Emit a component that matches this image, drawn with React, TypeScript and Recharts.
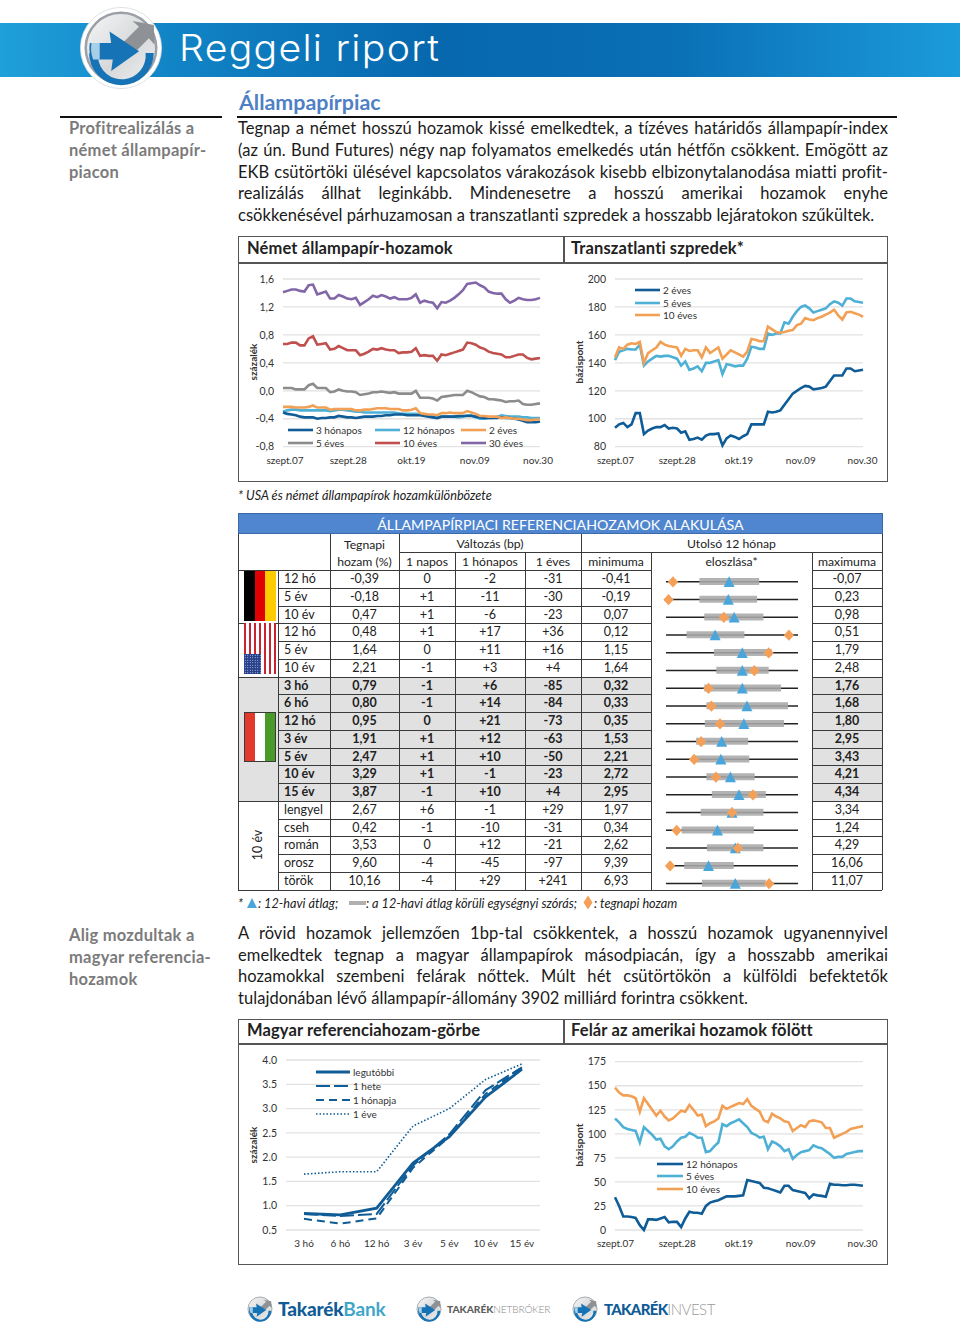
import React from "react";
import {
  LineChart,
  Line,
  Bar,
  ComposedChart,
  XAxis,
  YAxis,
  CartesianGrid,
} from "recharts";

const FONT = "Lato, 'Noto Sans', sans-serif";
const DARK = "#0f5c96";
const LIGHT = "#4fb0d6";
const ORANGE = "#f2a055";
const GRID = "#e2e2e2";

// every 15th trading day carries a label
const dateLabels = ["szept.07", "szept.28", "okt.19", "nov.09", "nov.30"];
const dateTicks = [0, 15, 30, 45, 60];

const de3m = [
  -0.31, -0.33, -0.34, -0.35, -0.37, -0.38, -0.38, -0.38, -0.4, -0.39,
  -0.39, -0.38, -0.38, -0.36, -0.37, -0.38, -0.38, -0.39, -0.38, -0.37,
  -0.37, -0.37, -0.36, -0.36, -0.35, -0.35, -0.34, -0.34, -0.34, -0.35,
  -0.35, -0.35, -0.35, -0.36, -0.37, -0.38, -0.39, -0.37, -0.37, -0.37,
  -0.37, -0.36, -0.36, -0.36, -0.36, -0.37, -0.38, -0.39, -0.39, -0.39,
  -0.39, -0.38, -0.39, -0.39, -0.4, -0.41, -0.43, -0.45, -0.45, -0.45, -0.44,
];
const de12m = [
  -0.3, -0.28, -0.27, -0.27, -0.28, -0.28, -0.28, -0.28, -0.28, -0.28,
  -0.28, -0.29, -0.28, -0.27, -0.27, -0.28, -0.29, -0.3, -0.3, -0.31,
  -0.31, -0.31, -0.31, -0.31, -0.31, -0.31, -0.31, -0.32, -0.33, -0.33,
  -0.33, -0.33, -0.34, -0.35, -0.35, -0.37, -0.38, -0.37, -0.37, -0.37,
  -0.37, -0.38, -0.37, -0.35, -0.35, -0.38, -0.4, -0.4, -0.39, -0.39,
  -0.37, -0.35, -0.36, -0.37, -0.37, -0.37, -0.38, -0.38, -0.39, -0.39, -0.39,
];
const de2y = [
  -0.23, -0.23, -0.23, -0.24, -0.24, -0.24, -0.23, -0.21, -0.24, -0.24,
  -0.24, -0.27, -0.26, -0.26, -0.26, -0.26, -0.26, -0.28, -0.28, -0.27,
  -0.27, -0.26, -0.25, -0.25, -0.25, -0.26, -0.26, -0.26, -0.28, -0.28,
  -0.27, -0.25, -0.32, -0.33, -0.34, -0.34, -0.35, -0.32, -0.32, -0.31,
  -0.32, -0.32, -0.32, -0.29, -0.31, -0.33, -0.36, -0.36, -0.37, -0.37,
  -0.37, -0.39, -0.38, -0.39, -0.4, -0.4, -0.41, -0.42, -0.42, -0.41, -0.41,
];
const de5y = [
  0.04, 0.04, 0.04, 0.02, 0.02, 0.02, 0.08, 0.1, 0.04, 0.04,
  0.04, -0.02, -0.01, 0.02, 0.0, -0.01, -0.01, -0.02, -0.06, -0.05,
  -0.04, -0.02, -0.02, -0.01, -0.02, -0.03, -0.02, -0.04, -0.04, -0.04,
  -0.04, 0.0, -0.1, -0.1, -0.1, -0.11, -0.14, -0.09, -0.08, -0.07,
  -0.06, -0.06, -0.06, 0.0, -0.02, -0.05, -0.08, -0.09, -0.12, -0.12,
  -0.13, -0.14, -0.16, -0.15, -0.15, -0.14, -0.19, -0.2, -0.2, -0.19, -0.18,
];
const de10y = [
  0.67, 0.67, 0.69, 0.69, 0.65, 0.65, 0.75, 0.78, 0.66, 0.67,
  0.68, 0.59, 0.6, 0.64, 0.61, 0.58, 0.58, 0.58, 0.51, 0.53,
  0.56, 0.6, 0.59, 0.61, 0.59, 0.58, 0.58, 0.54, 0.55, 0.55,
  0.56, 0.61, 0.5, 0.51, 0.5, 0.5, 0.43, 0.52, 0.51, 0.53,
  0.55, 0.57, 0.59, 0.69, 0.68, 0.66, 0.62, 0.6, 0.56, 0.54,
  0.53, 0.52, 0.48, 0.48, 0.5, 0.52, 0.52, 0.47, 0.45, 0.46, 0.47,
];
const de30y = [
  1.41, 1.43, 1.45, 1.45, 1.43, 1.42, 1.51, 1.52, 1.38, 1.4,
  1.42, 1.32, 1.32, 1.37, 1.35, 1.32, 1.31, 1.33, 1.23, 1.27,
  1.31, 1.36, 1.34, 1.37, 1.35, 1.32, 1.34, 1.31, 1.31, 1.31,
  1.33, 1.38, 1.26, 1.29, 1.27, 1.26, 1.18, 1.27, 1.26, 1.29,
  1.33, 1.38, 1.44, 1.53, 1.54, 1.55, 1.51, 1.48, 1.42, 1.4,
  1.39, 1.39, 1.31, 1.26, 1.29, 1.33, 1.31, 1.3, 1.3, 1.31, 1.33,
];

const spread2y = [
  93.5, 96, 97, 94, 96, 104, 104, 89, 91.5, 93,
  94, 94, 95.5, 93, 93.5, 93, 90, 91, 85, 85.5,
  86.5, 85, 88, 89, 89, 89.5, 81, 86, 88, 87,
  85.5, 87.5, 89, 96, 96, 96, 96, 105, 104.5, 105,
  106, 110, 114, 118, 120, 122, 123.5, 123, 121, 121.5,
  122, 123, 127, 131, 131, 131, 136, 136, 134, 134.5, 135,
];
const spread5y = [
  142, 148, 149, 150, 149.5, 149.5, 153, 138, 141, 143,
  145, 144.5, 145, 145, 144, 143, 138, 141, 135, 136,
  137.5, 134, 140, 140, 141, 142, 132, 139, 138.5, 137.5,
  138, 138, 143, 151.5, 151, 150, 150, 161, 160, 161,
  161, 169, 168, 173, 177, 180, 181, 179, 176, 177,
  178, 179, 182, 184, 183, 181, 186, 186, 184, 183.5, 183,
];
const spread10y = [
  144, 151, 150, 153, 154, 153.5, 155, 140, 147, 149,
  151, 155, 153, 152, 151.5, 151, 145, 150, 148.5, 149,
  149, 144, 151, 147, 149, 151, 143, 146, 149, 147.5,
  146, 144.5, 148, 157, 156.5, 155.5, 155.5, 166, 164, 162,
  161.5, 162, 163, 163.5, 167, 168, 172, 171, 170.5, 172,
  173, 174.5, 176, 178, 174, 171, 176, 176.5, 175.5, 174.5, 173,
];

const curveCategories = ["3 hó", "6 hó", "12 hó", "3 év", "5 év", "10 év", "15 év"];
const curveLatest = [0.84, 0.81, 0.95, 1.88, 2.42, 3.24, 3.81];
const curveWeek = [0.83, 0.79, 0.83, 1.83, 2.47, 3.38, 3.85];
const curveMonth = [0.73, 0.63, 0.74, 1.78, 2.42, 3.3, 3.85];
const curveYear = [1.65, 1.7, 1.7, 2.64, 3.0, 3.6, 3.92];

const premium12m = [
  34, 25, 14, 14, 13.5, 12.5, 5, 0, 11, 11,
  10.5, 12, 13.5, 8, 8.5, 8.5, 3, 12, 19, 18,
  18, 17, 25, 28.5, 30, 31, 33, 35, 35, 35,
  35.5, 36, 52, 51, 50, 49, 44, 43.5, 42, 40.5,
  39, 46, 46, 41.5, 40.5, 39.5, 38.5, 33, 37, 36,
  35.5, 34.5, 48, 47, 47, 46.5, 46.5, 47, 47, 46.5, 46,
];
const premium5y = [
  116, 112, 107, 105, 104, 103, 91, 107, 103, 99,
  94, 95, 87, 84, 87, 92, 96, 97, 101, 99,
  96, 96, 81, 82, 87, 91, 110, 108, 111, 113,
  115, 111, 107, 101, 99, 96, 97, 84, 92, 90,
  87, 82, 84, 74, 78, 81, 82, 83, 88, 86,
  85, 82, 79, 75, 76, 76, 79, 80, 81, 82, 82,
];
const premium10y = [
  148, 143, 140, 140, 139, 137, 123, 137, 131, 125,
  119, 124, 118, 114, 116, 120, 124, 123, 130, 125,
  119, 120, 108, 111, 113, 116, 129, 126, 128, 130,
  132, 131, 136, 129, 126, 123, 114, 112, 121, 118,
  116, 113, 112, 103, 106, 109, 107, 113, 114, 113,
  112, 106, 106, 96, 98, 100, 102, 105, 106, 107, 108,
];

// table columns
const rowLabels = ["12 hó", "5 év", "10 év", "12 hó", "5 év", "10 év", "3 hó", "6 hó", "12 hó", "3 év", "5 év", "10 év", "15 év", "lengyel", "cseh", "román", "orosz", "török"];
const yields = ["-0,39", "-0,18", "0,47", "0,48", "1,64", "2,21", "0,79", "0,80", "0,95", "1,91", "2,47", "3,29", "3,87", "2,67", "0,42", "3,53", "9,60", "10,16"];
const change1d = ["0", "+1", "+1", "+1", "0", "-1", "-1", "-1", "0", "+1", "+1", "+1", "-1", "+6", "-1", "0", "-4", "-4"];
const change1m = ["-2", "-11", "-6", "+17", "+11", "+3", "+6", "+14", "+21", "+12", "+10", "-1", "+10", "-1", "-10", "+12", "-45", "+29"];
const change1y = ["-31", "-30", "-23", "+36", "+16", "+4", "-85", "-84", "-73", "-63", "-50", "-23", "+4", "+29", "-31", "-21", "-97", "+241"];
const minimums = ["-0,41", "-0,19", "0,07", "0,12", "1,15", "1,64", "0,32", "0,33", "0,35", "1,53", "2,21", "2,72", "2,95", "1,97", "0,34", "2,62", "9,39", "6,93"];
const maximums = ["-0,07", "0,23", "0,98", "0,51", "1,79", "2,48", "1,76", "1,68", "1,80", "2,95", "3,43", "4,21", "4,34", "3,34", "1,24", "4,29", "16,06", "11,07"];

// distribution column, % of the min-max line
const bandLow = [25.3, 25.3, 29, 15.6, 36.3, 38.1, 29, 30.6, 29.4, 22.8, 20, 30.6, 34.7, 26.3, 11.9, 31, 13.8, 27.2];
const bandHigh = [70.6, 69, 73.8, 59.4, 80, 77.8, 87.2, 92.5, 89.4, 62.2, 63.1, 67.2, 75.6, 73.8, 66.6, 73.8, 51.3, 75.6];
const averages = [47.8, 47.2, 51.6, 37.2, 57.8, 57.8, 57.8, 61.3, 59, 42.2, 41.6, 48.8, 55.3, 50, 39, 52.5, 32.2, 52.5];
const latestPos = [5.3, 1.9, 43.8, 93.1, 77.8, 66.9, 32.2, 34.4, 40.9, 26.6, 21.3, 37.8, 65.9, 50, 8.1, 54.4, 3.1, 78.1];

const para1 = [
  "Tegnap a német hosszú hozamok kissé emelkedtek, a tízéves határidős állampapír-index",
  "(az ún. Bund Futures) négy nap folyamatos emelkedés után hétfőn csökkent. Emögött az",
  "EKB csütörtöki ülésével kapcsolatos várakozások kisebb elbizonytalanodása miatti profit-",
  "realizálás állhat leginkább. Mindenesetre a hosszú amerikai hozamok enyhe",
  "csökkenésével párhuzamosan a transzatlanti szpredek a hosszabb lejáratokon szűkültek.",
];
const para2 = [
  "A rövid hozamok jellemzően 1bp-tal csökkentek, a hosszú hozamok ugyanennyivel",
  "emelkedtek tegnap a magyar állampapírok másodpiacán, így a hosszabb amerikai",
  "hozamokkal szembeni felárak nőttek. Múlt hét csütörtökön a külföldi befektetők",
  "tulajdonában lévő állampapír-állomány 3902 milliárd forintra csökkent.",
];

const ROW_TOP = 570;
const ROW_H = 17.75;
const colEdges = [278, 330, 399, 455, 525, 581, 651];
const MAX_LEFT = 812;
const TABLE_RIGHT = 882;
const TABLE_LINE = "#3a3a3a";

function dated(series: Record<string, number[]>) {
  return dateKeys.map((i) => {
    const row: Record<string, number> = { i };
    Object.keys(series).forEach((k) => (row[k] = series[k][i]));
    return row;
  });
}
const dateKeys = de30y.map((_, i) => i);

const germanData = dated({ de3m, de12m, de2y, de5y, de10y, de30y });
const spreadData = dated({ spread2y, spread5y, spread10y });
const premiumData = dated({ premium12m, premium5y, premium10y });
const curveData = curveCategories.map((c, i) => ({
  c,
  latest: curveLatest[i],
  week: curveWeek[i],
  month: curveMonth[i],
  year: curveYear[i],
}));
const distData = rowLabels.map((_, i) => ({
  id: i,
  whisker: [0, 100],
  band: [bandLow[i], bandHigh[i]],
  avg: averages[i],
  last: latestPos[i],
}));

function Abs({ x, y, children, style }: any) {
  return <div style={{ position: "absolute", left: x, top: y, whiteSpace: "nowrap", ...style }}>{children}</div>;
}

function Box({ x, y, w, h, style }: any) {
  return <div style={{ position: "absolute", left: x, top: y, width: w, height: h, boxSizing: "border-box", ...style }} />;
}

function Para({ lines, top, step }: { lines: string[]; top: number; step: number }) {
  return (
    <>
      {lines.map((t, i) => (
        <div
          key={i}
          style={{
            position: "absolute",
            left: 238,
            width: 650,
            top: top + i * step,
            height: 22,
            lineHeight: "22px",
            fontSize: 16.5,
            letterSpacing: 0.05,
            color: "#1a1a1a",
            textAlign: "justify",
            textAlignLast: i === lines.length - 1 ? "left" : "justify",
            whiteSpace: "nowrap",
          }}
        >
          {t}
        </div>
      ))}
    </>
  );
}

function SideTitle({ lines, top }: { lines: string[]; top: number }) {
  return (
    <>
      {lines.map((t, i) => (
        <Abs key={i} x={69} y={top + i * 22} style={{ fontSize: 16.5, fontWeight: 700, letterSpacing: 0.25, color: "#7b7b7b", lineHeight: "22px" }}>
          {t}
        </Abs>
      ))}
    </>
  );
}

function ChartLegend({ items, rows }: any) {
  return (
    <>
      {items.map((it: any, i: number) => (
        <div key={i}>
          <svg style={{ position: "absolute", left: rows[i].x, top: rows[i].y - 3 }} width={rows[i].len} height={6}>
            <line x1={0} x2={rows[i].len} y1={3} y2={3} stroke={it.color} strokeWidth={it.width || 2.6} strokeDasharray={it.dash} />
          </svg>
          <Abs x={rows[i].x + rows[i].len + 3} y={rows[i].y - 7} style={{ fontSize: 10, lineHeight: "14px", color: "#333" }}>
            {it.name}
          </Abs>
        </div>
      ))}
    </>
  );
}

function DateChart({ x, y, h, w, left, right, top, bottom, data, lines, domain, ticks, tickFmt, inset }: any) {
  // first and last labels sit slightly inside the plot ends
  const renderTick = (p: any) => (
    <text
      x={p.x - ((p.payload.value - 30) / 30) * inset}
      y={p.y}
      dy="0.71em"
      textAnchor="middle"
      fontSize={10}
      fill="#333"
    >
      {dateLabels[dateTicks.indexOf(p.payload.value)]}
    </text>
  );
  return (
    <div style={{ position: "absolute", left: x, top: y }}>
      <LineChart width={w} height={h} data={data} margin={{ left: 0, right, top, bottom: 0 }}>
        <CartesianGrid horizontal vertical={false} stroke={GRID} strokeWidth={1.3} />
        <XAxis
          dataKey="i"
          type="category"
          ticks={dateTicks}
          interval={0}
          height={bottom}
          axisLine={false}
          tickLine={false}
          tickSize={0}
          tickMargin={10}
          tick={renderTick}
        />
        <YAxis
          width={left}
          domain={domain}
          ticks={ticks}
          interval={0}
          axisLine={false}
          tickLine={false}
          tickSize={0}
          tickMargin={9}
          tick={{ fontSize: 10.5, fill: "#333" }}
          tickFormatter={tickFmt}
        />
        {lines.map((l: any) => (
          <Line key={l.key} dataKey={l.key} stroke={l.color} strokeWidth={2.6} dot={false} isAnimationActive={false} />
        ))}
      </LineChart>
    </div>
  );
}

function CurveChart({ x, y }: any) {
  return (
    <div style={{ position: "absolute", left: x, top: y }}>
      <LineChart width={325} height={223} data={curveData} margin={{ left: 0, right: 23, top: 18, bottom: 0 }}>
        <CartesianGrid horizontal vertical={false} stroke={GRID} strokeWidth={1.3} />
        <XAxis
          dataKey="c"
          padding={{ left: 18, right: 18 }}
          height={35}
          interval={0}
          axisLine={false}
          tickLine={false}
          tickSize={0}
          tickMargin={10}
          tick={{ fontSize: 10, fill: "#333" }}
        />
        <YAxis
          width={48}
          domain={[0.5, 4]}
          ticks={[0.5, 1, 1.5, 2, 2.5, 3, 3.5, 4]}
          interval={0}
          axisLine={false}
          tickLine={false}
          tickSize={0}
          tickMargin={9}
          tick={{ fontSize: 10.5, fill: "#333" }}
          tickFormatter={(v: number) => v.toFixed(1)}
        />
        <Line dataKey="year" stroke={DARK} strokeWidth={1.6} strokeDasharray="1.5 2" dot={false} isAnimationActive={false} />
        <Line dataKey="month" stroke={DARK} strokeWidth={2} strokeDasharray="8 5" dot={false} isAnimationActive={false} />
        <Line dataKey="week" stroke={DARK} strokeWidth={2} strokeDasharray="14 4" dot={false} isAnimationActive={false} />
        <Line dataKey="latest" stroke={DARK} strokeWidth={2.8} dot={false} isAnimationActive={false} />
      </LineChart>
    </div>
  );
}

const triangleDot = (p: any) => (
  <path key={`t${p.index}`} d={`M${p.cx} ${p.cy - 5.6}L${p.cx + 5.5} ${p.cy + 5}L${p.cx - 5.5} ${p.cy + 5}Z`} fill="#4aa6da" />
);
const diamondDot = (p: any) => (
  <path key={`d${p.index}`} d={`M${p.cx} ${p.cy - 5.6}L${p.cx + 5.2} ${p.cy}L${p.cx} ${p.cy + 5.6}L${p.cx - 5.2} ${p.cy}Z`} fill="#f5a058" />
);

function Distribution() {
  return (
    <div style={{ position: "absolute", left: 651, top: ROW_TOP + 2.8 }}>
      <ComposedChart
        layout="vertical"
        width={161}
        height={ROW_H * 18}
        data={distData}
        margin={{ left: 15, right: 14, top: 0, bottom: 0 }}
      >
        <XAxis type="number" domain={[0, 100]} hide />
        <YAxis yAxisId="whisker" type="category" dataKey="id" hide />
        <YAxis yAxisId="band" type="category" dataKey="id" hide />
        <Bar yAxisId="whisker" dataKey="whisker" barSize={1.6} fill="#222" isAnimationActive={false} />
        <Bar yAxisId="band" dataKey="band" barSize={7} fill="#a8a8a8" fillOpacity={0.88} isAnimationActive={false} />
        <Line yAxisId="band" dataKey="avg" stroke="none" dot={triangleDot} isAnimationActive={false} />
        <Line yAxisId="band" dataKey="last" stroke="none" dot={diamondDot} isAnimationActive={false} />
      </ComposedChart>
    </div>
  );
}

function RefTable() {
  const cols = [rowLabels, yields, change1d, change1m, change1y, minimums];
  const hu = (i: number) => i >= 6 && i <= 12;
  const dark = { background: TABLE_LINE };
  const maxW = TABLE_RIGHT - MAX_LEFT;
  return (
    <>
      <div
        style={{
          position: "absolute",
          left: 238,
          top: 513,
          width: TABLE_RIGHT - 238 + 1,
          height: 21,
          background: "#4f86cf",
          color: "#fff",
          textAlign: "center",
          fontSize: 14.2,
          lineHeight: "21px",
          boxSizing: "border-box",
          border: "1px solid #3c6aa8",
        }}
      >
        ÁLLAMPAPÍRPIACI REFERENCIAHOZAMOK ALAKULÁSA
      </div>
      {/* grey block of the Hungarian rows */}
      <Box x={238} y={ROW_TOP + 6 * ROW_H} w={413} h={7 * ROW_H} style={{ background: "#e1e1e1" }} />
      <Box x={MAX_LEFT} y={ROW_TOP + 6 * ROW_H} w={maxW} h={7 * ROW_H} style={{ background: "#e1e1e1" }} />

      {/* header rows */}
      <Box x={colEdges[1]} y={534} w={1} h={36} style={dark} />
      <Box x={colEdges[5]} y={534} w={1} h={36} style={dark} />
      <Box x={colEdges[2]} y={552} w={TABLE_RIGHT - colEdges[2]} h={1} style={dark} />
      <Box x={colEdges[3]} y={552} w={1} h={18} style={dark} />
      <Box x={colEdges[4]} y={552} w={1} h={18} style={dark} />
      <Box x={colEdges[6]} y={552} w={1} h={18} style={dark} />
      <Box x={MAX_LEFT} y={552} w={1} h={18} style={dark} />
      <Box x={colEdges[2]} y={534} w={1} h={36} style={dark} />
      {[
        ["Tegnapi", colEdges[1], colEdges[2] - colEdges[1], 536],
        ["hozam (%)", colEdges[1], colEdges[2] - colEdges[1], 553],
        ["Változás (bp)", colEdges[2], colEdges[5] - colEdges[2], 535],
        ["Utolsó 12 hónap", colEdges[5], TABLE_RIGHT - colEdges[5], 535],
        ["1 napos", colEdges[2], colEdges[3] - colEdges[2], 553],
        ["1 hónapos", colEdges[3], colEdges[4] - colEdges[3], 553],
        ["1 éves", colEdges[4], colEdges[5] - colEdges[4], 553],
        ["minimuma", colEdges[5], colEdges[6] - colEdges[5], 553],
        ["eloszlása*", colEdges[6], MAX_LEFT - colEdges[6], 553],
        ["maximuma", MAX_LEFT, maxW, 553],
      ].map(([t, x, w, y]: any, i) => (
        <div
          key={i}
          style={{
            position: "absolute",
            left: x,
            top: y,
            width: w,
            textAlign: "center",
            fontSize: 12.2,
            lineHeight: "17px",
            color: "#222",
          }}
        >
          {t}
        </div>
      ))}

      {/* body rows */}
      {rowLabels.map((_, r) => {
        const top = ROW_TOP + r * ROW_H;
        return (
          <React.Fragment key={r}>
            <Box x={278} y={top} w={colEdges[6] - 278} h={1} style={dark} />
            <Box x={MAX_LEFT} y={top} w={maxW} h={1} style={dark} />
            {cols.map((c, k) => (
              <div
                key={k}
                style={{
                  position: "absolute",
                  left: colEdges[k] + (k === 0 ? 6 : 0),
                  top,
                  width: colEdges[k + 1] - colEdges[k],
                  height: ROW_H,
                  lineHeight: `${ROW_H + 1}px`,
                  textAlign: k === 0 ? "left" : "center",
                  fontSize: 12.5,
                  fontWeight: hu(r) ? 700 : 400,
                  color: "#222",
                }}
              >
                {c[r]}
              </div>
            ))}
            <div
              style={{
                position: "absolute",
                left: MAX_LEFT,
                top,
                width: maxW,
                height: ROW_H,
                lineHeight: `${ROW_H + 1}px`,
                textAlign: "center",
                fontSize: 12.5,
                fontWeight: hu(r) ? 700 : 400,
                color: "#222",
              }}
            >
              {maximums[r]}
            </div>
          </React.Fragment>
        );
      })}

      {/* group borders and column lines */}
      {[0, 3, 6, 13].map((r) => (
        <Box key={r} x={238} y={ROW_TOP + r * ROW_H} w={40} h={1} style={dark} />
      ))}
      <Box x={238} y={ROW_TOP + 18 * ROW_H} w={TABLE_RIGHT - 238} h={1} style={dark} />
      {[238, ...colEdges, MAX_LEFT, TABLE_RIGHT].map((x) => (
        <Box key={x} x={x} y={ROW_TOP} w={1} h={18 * ROW_H} style={dark} />
      ))}
      <Box x={238} y={534} w={1} h={36} style={dark} />
      <Box x={TABLE_RIGHT} y={534} w={1} h={36} style={dark} />

      {/* flags */}
      <div style={{ position: "absolute", left: 244, top: 571, width: 32, height: 50, display: "flex" }}>
        <div style={{ flex: 1, background: "#000" }} />
        <div style={{ flex: 1, background: "#e00000" }} />
        <div style={{ flex: 1, background: "#ffcc00" }} />
      </div>
      <div
        style={{
          position: "absolute",
          left: 244,
          top: 623,
          width: 32,
          height: 51,
          background: "repeating-linear-gradient(90deg,#c8242f 0 2.5px,#fff 2.5px 5px)",
        }}
      />
      <div
        style={{
          position: "absolute",
          left: 244,
          top: 654,
          width: 17,
          height: 20,
          background: "#27408b",
          backgroundImage: "radial-gradient(#dfe6ff 0.6px, transparent 0.7px)",
          backgroundSize: "2.5px 2.5px",
        }}
      />
      <div style={{ position: "absolute", left: 244, top: 712, width: 32, height: 50, display: "flex", border: "1px solid #3a3a3a", boxSizing: "border-box" }}>
        <div style={{ flex: 1, background: "#e2392c" }} />
        <div style={{ flex: 1, background: "#fff" }} />
        <div style={{ flex: 1, background: "#4a9a2a" }} />
      </div>
      <div
        style={{
          position: "absolute",
          left: 238,
          top: 835,
          width: 40,
          height: 20,
          textAlign: "center",
          fontSize: 12.5,
          lineHeight: "20px",
          color: "#222",
          transform: "rotate(-90deg)",
        }}
      >
        10 év
      </div>
    </>
  );
}

function FootNote() {
  const s = { fontSize: 12.7, fontStyle: "italic", color: "#222", lineHeight: "16px" };
  return (
    <>
      <Abs x={238} y={895} style={s}>*</Abs>
      <svg style={{ position: "absolute", left: 246, top: 897 }} width={12} height={12}>
        <path d="M6 1L11 11L1 11Z" fill="#4aa6da" />
      </svg>
      <Abs x={258} y={895} style={s}>: 12-havi átlag;</Abs>
      <Box x={349} y={901} w={17} h={4} style={{ background: "#b0b0b0" }} />
      <Abs x={366} y={895} style={s}>: a 12-havi átlag körüli egységnyi szórás;</Abs>
      <svg style={{ position: "absolute", left: 583, top: 895 }} width={10} height={15}>
        <path d="M5 0.5L9.5 7.5L5 14.5L0.5 7.5Z" fill="#f5a058" />
      </svg>
      <Abs x={594} y={895} style={s}>: tegnapi hozam</Abs>
    </>
  );
}

function LogoMark({ x, y, r, id, halo }: any) {
  return (
    <svg style={{ position: "absolute", left: x - r, top: y - r }} width={r * 2} height={r * 2} viewBox="0 0 100 100">
      <defs>
        <linearGradient id={`sph${id}`} x1="0" y1="0" x2="1" y2="1">
          <stop offset="0" stopColor="#f7f7f7" />
          <stop offset="0.55" stopColor="#d6d8da" />
          <stop offset="1" stopColor="#f0f0f0" />
        </linearGradient>
      </defs>
      {halo && <circle cx={50} cy={50} r={49.5} fill="#fff" stroke="#d7dadd" strokeWidth={1} />}
      <circle cx={50} cy={50} r={43} fill={`url(#sph${id})`} stroke="#9aa0a6" strokeWidth={3} />
      <path d="M52 44 L72 24 L64 17 L90 22 L91 46 L84 38 L66 56 Z" fill="#8e9296" />
      <path d="M11 56 A39 39 0 0 0 90 56 L80 56 A29 29 0 0 1 22 62 Z" fill="#1673b5" />
      <path d="M12 44 L38 44 L36 30 L72 54 L38 78 L40 64 L14 64 A38 38 0 0 1 12 44 Z" fill="#1673b5" />
      <path d="M14 44 L24 44 L24 64 L16 64 A38 38 0 0 1 14 44 Z" fill="#a8cfe8" />
    </svg>
  );
}

export default function App() {
  const fmtComma = (v: number) => v.toFixed(1).replace(".", ",");
  const axisTitle = { width: 60, textAlign: "center", fontSize: 10, fontWeight: 700, color: "#333", transform: "rotate(-90deg)" };
  const frameTitle = { fontSize: 16.5, fontWeight: 700, letterSpacing: 0.12, color: "#222", lineHeight: "24px" };
  const frame = "#555";
  return (
    <div style={{ position: "absolute", left: 0, top: 0, width: 960, height: 1329, overflow: "hidden", background: "#fff", fontFamily: FONT }}>
      {/* banner */}
      <div
        style={{
          position: "absolute",
          left: 0,
          top: 23,
          width: 960,
          height: 54,
          background: "linear-gradient(90deg,#1fa0da 0%,#1184c6 18%,#0768ae 45%,#0a6fb5 70%,#1b9bda 100%)",
        }}
      />
      <LogoMark x={120.5} y={47.5} r={41} id="top" halo />
      <Abs
        x={179}
        y={26}
        style={{
          fontFamily: "Inter, sans-serif",
          fontWeight: 300,
          fontSize: 37,
          lineHeight: "44px",
          color: "#fff",
          letterSpacing: 1.2,
          transform: "scaleX(1.06)",
          transformOrigin: "left center",
        }}
      >
        Reggeli riport
      </Abs>

      {/* section head */}
      <Box x={60} y={116} w={162} h={1.5} style={{ background: "#111" }} />
      <Box x={237} y={116} w={660} h={1.5} style={{ background: "#111" }} />
      <Abs x={239} y={89} style={{ fontSize: 21.4, fontWeight: 700, color: "#4f7fc4", lineHeight: "27px" }}>Állampapírpiac</Abs>
      <SideTitle lines={["Profitrealizálás a", "német állampapír-", "piacon"]} top={117} />
      <Para lines={para1} top={117} step={21.8} />

      {/* upper chart frame */}
      <Box x={238} y={236} w={650} h={246} style={{ border: `1.5px solid ${frame}` }} />
      <Box x={238} y={262} w={650} h={1.5} style={{ background: frame }} />
      <Box x={563} y={236} w={1.5} h={26} style={{ background: frame }} />
      <Abs x={247} y={236} style={frameTitle}>Német állampapír-hozamok</Abs>
      <Abs x={571} y={236} style={frameTitle}>Transzatlanti szpredek*</Abs>

      <DateChart
        x={238}
        y={262}
        w={325}
        h={208}
        left={45}
        right={23}
        top={17}
        bottom={23.3}
        inset={2}
        data={germanData}
        domain={[-0.8, 1.6]}
        ticks={[-0.8, -0.4, 0, 0.4, 0.8, 1.2, 1.6]}
        tickFmt={fmtComma}
        lines={[
          { key: "de30y", color: "#8266a8" },
          { key: "de10y", color: "#c0504d" },
          { key: "de5y", color: "#8c8c8c" },
          { key: "de12m", color: LIGHT },
          { key: "de3m", color: DARK },
          { key: "de2y", color: ORANGE },
        ]}
      />
      <ChartLegend
        items={[
          { name: "3 hónapos", color: DARK },
          { name: "5 éves", color: "#8c8c8c" },
          { name: "12 hónapos", color: LIGHT },
          { name: "10 éves", color: "#c0504d" },
          { name: "2 éves", color: ORANGE },
          { name: "30 éves", color: "#8266a8" },
        ]}
        rows={[
          { x: 288, y: 430, len: 25 },
          { x: 288, y: 443, len: 25 },
          { x: 375, y: 430, len: 25 },
          { x: 375, y: 443, len: 25 },
          { x: 461, y: 430, len: 25 },
          { x: 461, y: 443, len: 25 },
        ]}
      />
      <Abs x={222.5} y={356} style={axisTitle}>százalék</Abs>

      <DateChart
        x={563}
        y={262}
        w={324}
        h={208}
        left={52}
        right={24}
        top={17}
        bottom={23.3}
        inset={0.5}
        data={spreadData}
        domain={[80, 200]}
        ticks={[80, 100, 120, 140, 160, 180, 200]}
        lines={[
          { key: "spread2y", color: DARK },
          { key: "spread5y", color: LIGHT },
          { key: "spread10y", color: ORANGE },
        ]}
      />
      <ChartLegend
        items={[
          { name: "2 éves", color: DARK },
          { name: "5 éves", color: LIGHT },
          { name: "10 éves", color: ORANGE },
        ]}
        rows={[
          { x: 635, y: 290, len: 25 },
          { x: 635, y: 302.5, len: 25 },
          { x: 635, y: 315, len: 25 },
        ]}
      />
      <Abs x={549} y={356} style={axisTitle}>bázispont</Abs>

      <Abs x={238} y={487} style={{ fontSize: 12.7, fontStyle: "italic", color: "#222", lineHeight: "16px" }}>* USA és német állampapírok hozamkülönbözete</Abs>

      <RefTable />
      <Distribution />
      <FootNote />

      <SideTitle lines={["Alig mozdultak a", "magyar referencia-", "hozamok"]} top={924} />
      <Para lines={para2} top={922} step={21.6} />

      {/* lower chart frame */}
      <Box x={238} y={1019} w={650} h={246} style={{ border: `1.5px solid ${frame}` }} />
      <Box x={238} y={1043} w={650} h={1.5} style={{ background: frame }} />
      <Box x={563} y={1019} w={1.5} h={24} style={{ background: frame }} />
      <Abs x={247} y={1018} style={frameTitle}>Magyar referenciahozam-görbe</Abs>
      <Abs x={571} y={1018} style={frameTitle}>Felár az amerikai hozamok fölött</Abs>

      <CurveChart x={238} y={1042} />
      <ChartLegend
        items={[
          { name: "legutóbbi", color: DARK, width: 2.8 },
          { name: "1 hete", color: DARK, width: 2, dash: "14 4" },
          { name: "1 hónapja", color: DARK, width: 2, dash: "8 5" },
          { name: "1 éve", color: DARK, width: 1.6, dash: "1.5 2" },
        ]}
        rows={[
          { x: 316, y: 1072, len: 34 },
          { x: 316, y: 1086, len: 34 },
          { x: 316, y: 1100, len: 34 },
          { x: 316, y: 1114, len: 34 },
        ]}
      />
      <Abs x={222.5} y={1139} style={axisTitle}>százalék</Abs>

      <DateChart
        x={563}
        y={1042}
        w={324}
        h={223}
        left={52}
        right={24}
        top={19.7}
        bottom={35}
        inset={0.5}
        data={premiumData}
        domain={[0, 175]}
        ticks={[0, 25, 50, 75, 100, 125, 150, 175]}
        lines={[
          { key: "premium12m", color: DARK },
          { key: "premium5y", color: LIGHT },
          { key: "premium10y", color: ORANGE },
        ]}
      />
      <ChartLegend
        items={[
          { name: "12 hónapos", color: DARK },
          { name: "5 éves", color: LIGHT },
          { name: "10 éves", color: ORANGE },
        ]}
        rows={[
          { x: 657, y: 1163.5, len: 26 },
          { x: 657, y: 1176, len: 26 },
          { x: 657, y: 1188.5, len: 26 },
        ]}
      />
      <Abs x={549} y={1139} style={axisTitle}>bázispont</Abs>

      {/* footer brands */}
      <LogoMark x={260} y={1309} r={14} id="bank" />
      <Abs x={278} y={1298} style={{ fontSize: 19, fontWeight: 900, lineHeight: "22px", color: DARK, letterSpacing: -0.2 }}>
        Takarék<span style={{ color: "#3fa6c8", fontWeight: 700 }}>Bank</span>
      </Abs>
      <LogoMark x={429} y={1309} r={14} id="broker" />
      <Abs x={447} y={1302} style={{ fontSize: 10.2, fontWeight: 900, lineHeight: "14px", color: "#5e5e5e" }}>
        TAKARÉK<span style={{ fontWeight: 300, color: "#8a8a8a", letterSpacing: -0.2 }}>NETBRÓKER</span>
      </Abs>
      <LogoMark x={585} y={1309} r={14} id="invest" />
      <Abs x={604} y={1299} style={{ fontSize: 15, fontWeight: 900, lineHeight: "20px", color: DARK, letterSpacing: -0.7 }}>
        TAKARÉK<span style={{ fontWeight: 300, color: "#9a9a9a", letterSpacing: -0.5 }}>INVEST</span>
      </Abs>
    </div>
  );
}
